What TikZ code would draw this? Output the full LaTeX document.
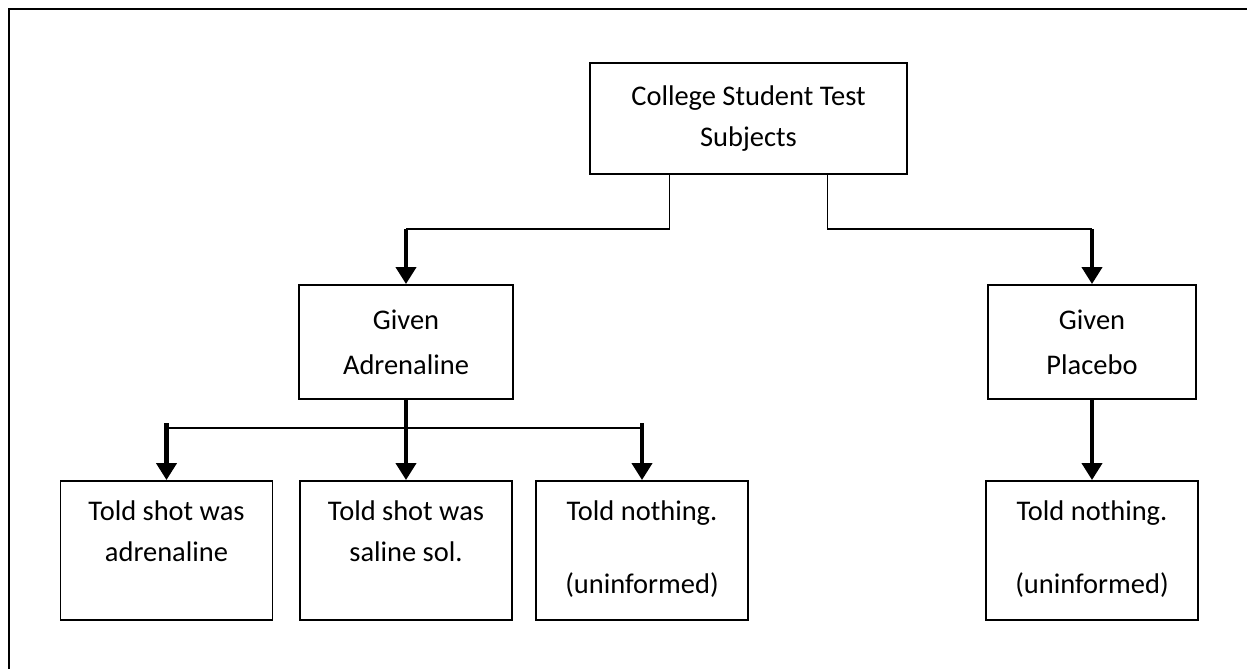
\documentclass[tikz,border=0pt]{standalone}
\usepackage{fontspec}
\setmainfont{Carlito}
\usetikzlibrary{arrows.meta,positioning}

\begin{document}
\begin{tikzpicture}[x=0.02cm,y=-0.02cm]
  \tikzset{box/.style = {draw, line width=1.1pt, align=center, inner sep=0pt,
      font=\fontsize{16.2}{23.5}\selectfont}}
  \tikzset{child/.style = {box, minimum width=4.24cm, minimum height=2.78cm}}
  \tikzset{txt/.style = {align=center, inner sep=0pt, font=\fontsize{16.2}{23.5}\selectfont}}
  \tikzset{link/.style = {line width=1.1pt}}
  \tikzset{arrow/.style = {-{Triangle[width=0.4cm,length=0.34cm]}, line width=2.3pt}}

\useasboundingbox (0,0) rectangle (1247,669);
\draw[line width=1.6pt] (9,669) |- (1247,9);

\node[box, minimum width=6.34cm, minimum height=2.22cm] (top) at (748.5,118.5) {College Student Test\\Subjects};
\node[box, minimum width=4.28cm, minimum height=2.28cm] (adr) at (406,342) {Given\\[2pt]Adrenaline};
\node[box, minimum width=4.16cm, minimum height=2.28cm] (pla) at (1092,342) {Given\\[2pt]Placebo};

\node[child] (c1) at (166.5,550.5) {};
\node[child] (c2) at (406,550.5) {};
\node[child] (c3) at (642,550.5) {};
\node[child] (c4) at (1092,550.5) {};

\node[txt, below=0.4cm of c1.north] (t1) {Told shot was\\adrenaline};
\node[txt, below=0.4cm of c2.north] (t2) {Told shot was\\saline sol.};
\node[txt, below=0.4cm of c3.north] (t3) {Told nothing.\\[18pt](uninformed)};
\node[txt, below=0.4cm of c4.north] (t4) {Told nothing.\\[18pt](uninformed)};

\coordinate (ja) at (406,229);
\coordinate (jp) at (1092,229);
\coordinate (jl) at (166.5,428);
\coordinate (jr) at (642,428);

  % top box to the two groups
    \draw[link] ([xshift=-1.58cm]top.south) |- (ja);
    \draw[link] ([xshift=1.58cm]top.south) |- (jp);
    \draw[arrow] (ja) -- (adr.north);
    \draw[arrow] (jp) -- (pla.north);

  % adrenaline group
    \draw[link] (jl) -- (jr);
    \draw[arrow] (adr.south) -- (c2.north);
    \draw[arrow] ([yshift=0.1cm]jl) -- (c1.north);
    \draw[arrow] ([yshift=0.1cm]jr) -- (c3.north);

  % placebo group
    \draw[arrow] (pla.south) -- (c4.north);

\end{tikzpicture}
\end{document}
